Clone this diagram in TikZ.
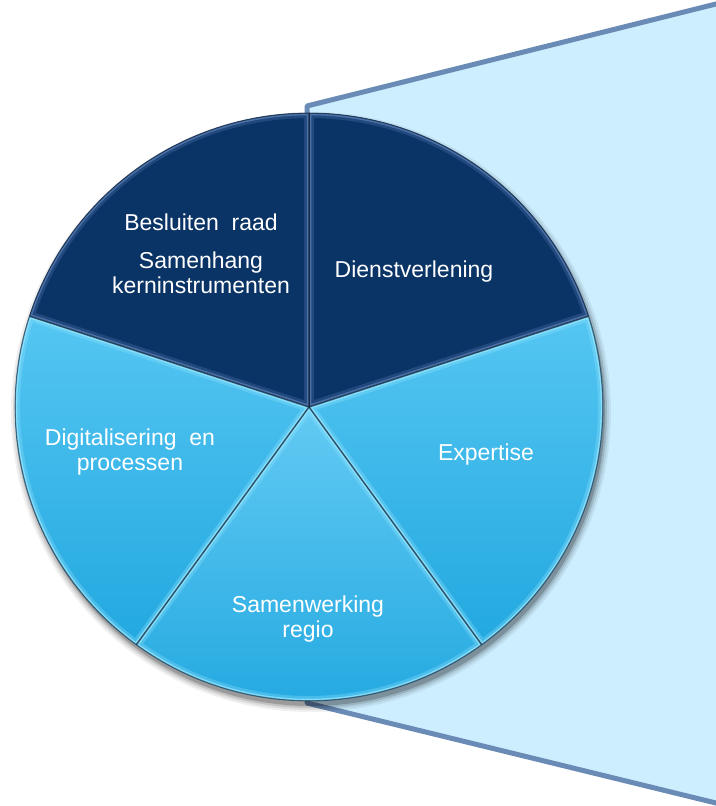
\documentclass[tikz,border=0pt]{standalone}
\usepackage{fontspec}
\setmainfont{Liberation Sans}
\begin{document}
\begin{tikzpicture}[x=1pt,y=1pt,
  lbl/.style={text=white,font=\fontsize{23}{24.5}\selectfont,align=center,inner sep=0pt}]
\definecolor{navy}{HTML}{0A3366}
\definecolor{navyhi}{HTML}{5A7FB5}
\definecolor{lighttop}{HTML}{55C6F2}
\definecolor{lightbot}{HTML}{22A8E0}
\definecolor{cyanhi}{HTML}{95E6FF}
\definecolor{panel}{HTML}{CCEEFF}
\definecolor{panelline}{HTML}{6A8BB6}
\useasboundingbox (0,0) rectangle (715,806);
% background panel
\draw[fill=panel,draw=panelline,line width=5pt,line join=round]
  (307,700) -- (720,803) -- (720,2) -- (307,103) -- cycle;
% shadow
\foreach \r/\o in {300/0.06,298/0.08,296/0.12,294/0.2}
  \fill[black,opacity=\o] (311,394) circle[radius=\r];
\newcommand\pieSector[2]{(309,399) -- ++(#1:294) arc[start angle=#1, end angle=#2, radius=294] -- cycle}
% dark sectors
\fill[navy] \pieSector{18}{90};
\fill[navy] \pieSector{90}{162};
% light sectors
\shade[top color=lighttop,bottom color=lightbot] \pieSector{162}{234};
\shade[top color=lighttop!92!white,bottom color=lightbot] \pieSector{234}{306};
\shade[top color=lighttop,bottom color=lightbot] \pieSector{306}{378};
% bevels
\foreach \a/\b/\c in {18/90/navyhi,90/162/navyhi,162/234/cyanhi,234/306/cyanhi,306/378/cyanhi}{
  \begin{scope}
    \clip \pieSector{\a}{\b};
    \draw[line width=10pt,draw=\c,opacity=0.3] \pieSector{\a}{\b};
    \draw[line width=4.5pt,draw=\c,opacity=0.75] \pieSector{\a}{\b};
    \draw[line width=1.6pt,draw=black!55!navy,opacity=0.45] \pieSector{\a}{\b};
  \end{scope}
}
% sector boundaries
\foreach \a in {18,90,162,234,306}
  \draw[line width=0.8pt,draw=black!60!navy,opacity=0.6] (309,399) -- ++(\a:294);
\draw[line width=0.8pt,draw=black!50!navy,opacity=0.5] (309,399) circle[radius=294];
% labels
\node[lbl] (besluiten) at (201,584) {Besluiten\ \ raad};
\node[lbl] (samenhang) at (201,533) {Samenhang\\kerninstrumenten};
\node[lbl] (dienst) at (414,534) {Dienstverlening};
\node[lbl] (digital) at (130,354) {Digitalisering\ \ en\\processen};
\node[lbl] (expertise) at (486,351) {Expertise};
\node[lbl] (samenwerking) at (308,187) {Samenwerking\\regio};
\end{tikzpicture}
\end{document}
